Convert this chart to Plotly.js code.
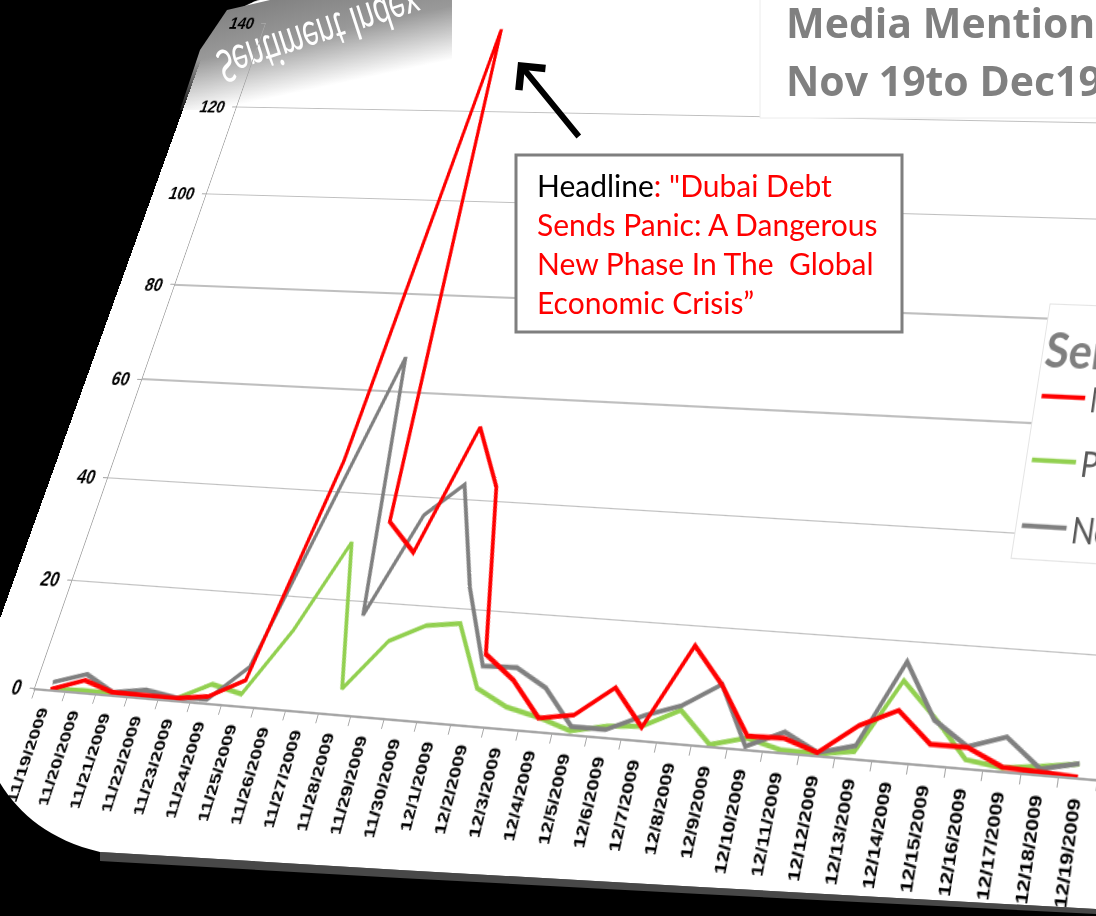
<!DOCTYPE html>
<html><head><meta charset="utf-8">
<script src="https://cdn.plot.ly/plotly-3.0.1.min.js"></script>
<style>
html,body{margin:0;padding:0;background:#000;width:1096px;height:916px;overflow:hidden;position:relative;}
#cardbg,#chart{position:absolute;left:0;top:0;transform-origin:0 0;}
#cardbg{background:#fff;border-top-left-radius:70px;}
#refl{position:absolute;left:180px;top:0;width:272px;height:110px;
 background:linear-gradient(168deg,#787878 0%,#999 38%,rgba(255,255,255,0) 70%);
 clip-path:polygon(90px 0,272px 0,272px 110px,0 110px,20px 50px,47px 10px);overflow:hidden;}
#refl div{position:absolute;left:-10px;top:22px;width:250px;height:44px;line-height:44px;text-align:center;color:#fff;
 font-family:Lato,sans-serif;font-size:46px;white-space:nowrap;transform:rotate(-18deg) scale(0.64,-1);transform-origin:50% 50%;}
#ov{position:absolute;left:0;top:0;width:1096px;height:916px;pointer-events:none;}
</style></head>
<body>
<div id="cardbg"></div>
<div id="refl"><div>Sentiment Index</div></div>
<div id="chart"></div>
<div id="ov"></div>
<script>
// ---------- data ----------
const dates = ['11/19/2009','11/20/2009','11/21/2009','11/22/2009','11/23/2009','11/24/2009','11/25/2009',
 '11/26/2009','11/27/2009','11/28/2009','11/29/2009','11/30/2009','12/1/2009','12/2/2009','12/3/2009',
 '12/4/2009','12/5/2009','12/6/2009','12/7/2009','12/8/2009','12/9/2009','12/10/2009','12/11/2009',
 '12/12/2009','12/13/2009','12/14/2009','12/15/2009','12/16/2009','12/17/2009','12/18/2009','12/19/2009'];
const negative = [0, 2.1, 0.4, 0.3, 0.3, 1.1, 4.5, 46, 139, 35, 29.6, 53.9, 42.7, 12.4, 8.3,
 2.2, 3.2, 8.4, 2.1, 16.6, 10.3, 2.1, 2.3, 0.4, 5.4, 8.4, 3.3, 3.3, 0.6, 0.3, 0];
const positive = [0, 0.3, 0.2, 0.2, 0.2, 3.3, 2.0, 14, 30.7, 4.4, 13.4, 16.6, 17.4, 6.4, 3.6,
 2.3, 0.5, 1.8, 2.3, 5.5, 0.2, 1.8, 0.3, 0.2, 1.1, 13.4, 7.7, 1.3, 0.5, 1.2, 2.1];
const neutral = [1.3, 3.2, 0.4, 1.3, 0.4, 0.6, 6.9, 37, 67, 17.6, 36.6, 42.8, 24, 10.3, 10.5,
 7.4, 1.2, 1.2, 4.1, 6.3, 10.4, 0.4, 3.3, 0.4, 2.0, 16.6, 7.3, 3.4, 5.5, 0.8, 2.2];
const seriesNames = ['Negative', 'Positive', 'Neutral'];
const seriesColors = ['#ff0000', '#92d050', '#808080'];
const yTicks = [0, 20, 40, 60, 80, 100, 120, 140];
const titleLines = ['Media Mentions', 'Nov 19to Dec19'];
const legendTitle = 'Sentiment';

// ---------- flat chart geometry & perspective ----------
const FW = 1568, FH = 950, ML = 68, MT = 30, PW = 1100, PH = 660;
const src = [[ML, MT + PH], [ML + PW, MT + PH], [ML, MT], [ML + PW, MT]];
const dst = [[35, 688], [1097, 779], [266, 23], [1194, 31.3]];

function homography(s, d) {
  const A = [];
  for (let i = 0; i < 4; i++) {
    const [x, y] = s[i], [X, Y] = d[i];
    A.push([x, y, 1, 0, 0, 0, -X * x, -X * y, X]);
    A.push([0, 0, 0, x, y, 1, -Y * x, -Y * y, Y]);
  }
  const n = 8;
  for (let c = 0; c < n; c++) {
    let p = c;
    for (let r = c + 1; r < n; r++) if (Math.abs(A[r][c]) > Math.abs(A[p][c])) p = r;
    [A[c], A[p]] = [A[p], A[c]];
    for (let r = 0; r < n; r++) {
      if (r === c) continue;
      const f = A[r][c] / A[c][c];
      for (let k = c; k <= n; k++) A[r][k] -= f * A[c][k];
    }
  }
  return A.map((row, i) => row[n] / row[i]);
}
function applyH(h, x, y) {
  const w = h[6] * x + h[7] * y + 1;
  return [(h[0] * x + h[1] * y + h[2]) / w, (h[3] * x + h[4] * y + h[5]) / w];
}
const H = homography(src, dst);
const Hinv = homography(dst, src);
const mat = `matrix3d(${H[0]},${H[3]},0,${H[6]},${H[1]},${H[4]},0,${H[7]},0,0,1,0,${H[2]},${H[5]},0,1)`;
['cardbg', 'chart'].forEach(id => {
  const el = document.getElementById(id);
  el.style.width = FW + 'px'; el.style.height = FH + 'px'; el.style.transform = mat;
});
const legFlat = applyH(Hinv, 1050, 303);
const legX = (legFlat[0] - ML) / PW, legY = 1 - (legFlat[1] - MT) / PH;

// ---------- main chart ----------
const order = [1, 2, 0]; // draw green, grey, then red on top
const values = [negative, positive, neutral];
const traces = order.map(i => ({
  type: 'scatter', mode: 'lines', x: dates, y: values[i], name: seriesNames[i],
  legendgroup: seriesNames[i], legendrank: i + 1,
  line: {color: seriesColors[i], width: 4}, hoverinfo: 'skip'
}));
const xFont = {family: 'Liberation Sans, Arial, sans-serif', size: 16, color: '#000', weight: 700};
const yFont = {family: 'Liberation Sans, Arial, sans-serif', size: 19, color: '#000', weight: 700};
Plotly.newPlot('chart', traces, {
  width: FW, height: FH, autosize: false,
  margin: {l: ML, r: FW - ML - PW, t: MT, b: FH - MT - PH, pad: 0},
  paper_bgcolor: 'rgba(0,0,0,0)', plot_bgcolor: 'rgba(0,0,0,0)',
  showlegend: true,
  legend: {x: legX, y: legY, xanchor: 'left', yanchor: 'top', bgcolor: '#fff', bordercolor: '#e4e4e4', borderwidth: 1,
    font: {family: 'Lato, sans-serif', size: 30, color: '#595959'}, tracegroupgap: 14, itemwidth: 44,
    title: {text: legendTitle, font: {family: 'Lato, sans-serif', size: 44, color: '#7f7f7f', weight: 700}}},
  xaxis: {type: 'category', range: [-0.5, 30.5], tickson: 'boundaries', ticks: 'outside', ticklen: 7,
    tickcolor: '#a6a6a6', showline: true, linecolor: '#a6a6a6', linewidth: 1.5, showgrid: false,
    tickangle: -90, tickfont: xFont, ticklabelstandoff: 8, fixedrange: true},
  yaxis: {range: [0, 140], tickvals: yTicks, showgrid: true, gridcolor: '#bfbfbf', gridwidth: 1.5,
    showline: true, linecolor: '#a6a6a6', linewidth: 1.5, ticks: 'outside', ticklen: 5, tickcolor: '#a6a6a6',
    tickfont: yFont, ticklabelstandoff: 5, zeroline: false, fixedrange: true}
}, {displayModeBar: false, staticPlot: true});

// ---------- overlay (title, headline call-out, arrow, frame) ----------
const red = '#ff0000';
const headline = 'Headline<span style="color:' + red + '">: "Dubai Debt</span><br>' +
  '<span style="color:' + red + '">Sends Panic: A Dangerous</span><br>' +
  '<span style="color:' + red + '">New Phase In The&nbsp; Global</span><br>' +
  '<span style="color:' + red + '">Economic Crisis”</span>';
Plotly.newPlot('ov', [], {
  width: 1096, height: 916, autosize: false, margin: {l: 0, r: 0, t: 0, b: 0, pad: 0},
  paper_bgcolor: 'rgba(0,0,0,0)', plot_bgcolor: 'rgba(0,0,0,0)', showlegend: false,
  xaxis: {range: [0, 1096], visible: false, fixedrange: true},
  yaxis: {range: [916, 0], visible: false, fixedrange: true},
  shapes: [
    {type: 'path', path: 'M0,783 C20,815 50,840 100,852 L400,870 L700,887 L1096,909 L1096,916 L0,916 Z',
      fillcolor: '#000', line: {width: 0}},
    {type: 'path', path: 'M100,852 L400,870 L700,887 L1096,909 L1096,914 L700,894 L400,878 L100,861 Z',
      fillcolor: 'rgba(120,120,120,0.6)', line: {width: 0}},
    {type: 'rect', x0: 760, x1: 1100, y0: -2, y1: 118, fillcolor: '#fff', line: {color: '#ececec', width: 1}},
    {type: 'rect', x0: 516, x1: 902, y0: 155, y1: 332, fillcolor: '#fff', line: {color: '#7f7f7f', width: 3}}
  ],
  annotations: [
    {x: 784, y: 22, xref: 'x', yref: 'y', xanchor: 'left', yanchor: 'middle', showarrow: false, text: titleLines[0],
      font: {family: 'Open Sans, sans-serif', size: 41, color: '#808080', weight: 700}},
    {x: 784, y: 80, xref: 'x', yref: 'y', xanchor: 'left', yanchor: 'middle', showarrow: false, text: titleLines[1],
      font: {family: 'Open Sans, sans-serif', size: 41, color: '#808080', weight: 700}},
    {x: 535, y: 165, xref: 'x', yref: 'y', xanchor: 'left', yanchor: 'top', align: 'left', showarrow: false,
      text: headline, font: {family: 'Lato, sans-serif', size: 30, color: '#000'}},
    {x: 518, y: 62, xref: 'x', yref: 'y', ax: 62, ay: 76, text: '', showarrow: true, arrowhead: 4,
      arrowsize: 1.1, arrowwidth: 6, arrowcolor: '#000', standoff: 0}
  ]
}, {displayModeBar: false, staticPlot: true});
</script>
</body></html>
